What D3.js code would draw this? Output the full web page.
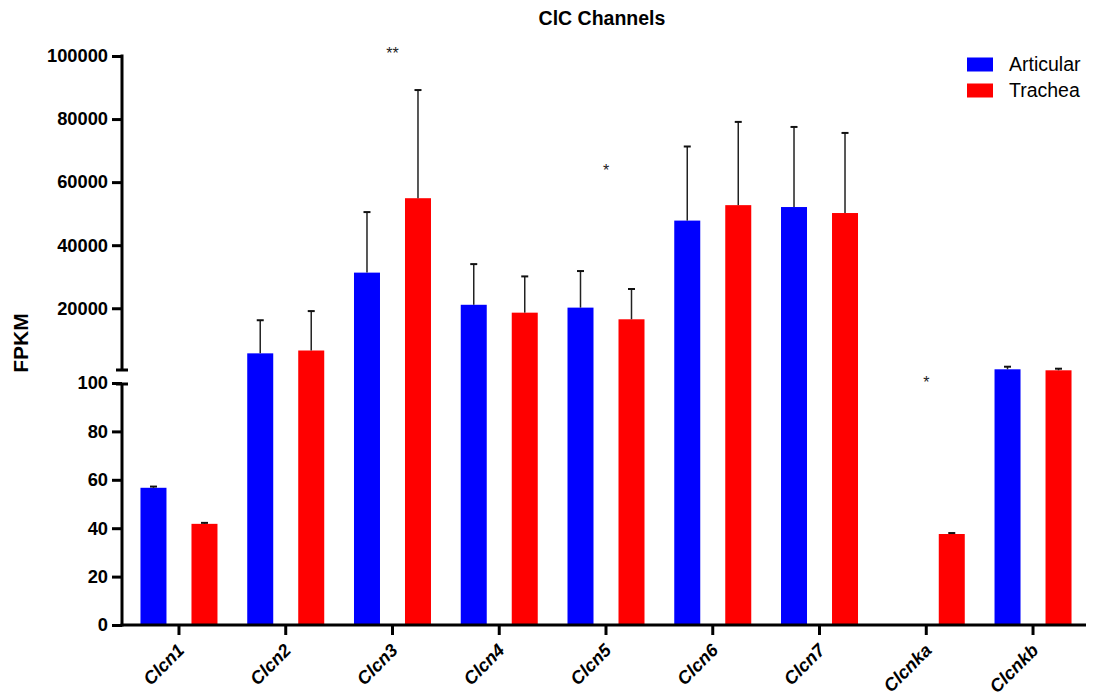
<!DOCTYPE html>
<html>
<head>
<meta charset="utf-8">
<script src="https://cdn.jsdelivr.net/npm/d3@7"></script>
<style>
  html, body { margin: 0; padding: 0; background: #fff; }
  svg { display: block; font-family: "Liberation Sans", Arial, Helvetica, sans-serif; }
</style>
</head>
<body>
<svg id="chart" width="1093" height="700"></svg>
<script>
// Gene categories and per-tissue FPKM means with upper error-bar ends
const genes = ["Clcn1", "Clcn2", "Clcn3", "Clcn4", "Clcn5", "Clcn6", "Clcn7", "Clcnka", "Clcnkb"];
const articular = [56.7, 5700, 31300, 21100, 20200, 47800, 52100, 0, 640];
const articularErr = [57.2, 16200, 50500, 34000, 31800, 71300, 77500, null, 1460];
const trachea = [41.8, 6600, 54900, 18600, 16500, 52700, 50200, 37.6, 320];
const tracheaErr = [42.2, 19100, 89200, 30100, 26100, 79100, 75600, 38.0, 830];

// Significance marks: [category, label, value position]
const stars = [["Clcn3", "**", 100000], ["Clcn5", "*", 63000], ["Clcnka", "*", 99]];

const seriesNames = ["Articular", "Trachea"];
const seriesColors = ["#0000ff", "#ff0000"];

// Broken y axis: two segments
const lowTicks = [0, 20, 40, 60, 80, 100];
const highTicks = [20000, 40000, 60000, 80000, 100000];

const svg = d3.select("#chart");

const axisX = 122;
const yLow = d3.scaleLinear().domain([0, 100]).range([625, 383]);
const yHigh = d3.scaleLinear().domain([100, 100000]).range([371, 56]);
const y = v => (v <= 100 ? yLow(v) : yHigh(v));

const x = d3.scaleBand().domain(genes).range([125.6, 1086.4]);
const barW = 26;
const offsets = [-25.5, 25.5];

// Bars
const series = [
  { vals: articular, err: articularErr },
  { vals: trachea, err: tracheaErr }
];

series.forEach((s, si) => {
  const g = svg.append("g");
  genes.forEach((gene, i) => {
    const v = s.vals[i];
    if (!v) return;
    const cx = x(gene) + x.bandwidth() / 2 + offsets[si];
    g.append("rect")
      .attr("x", cx - barW / 2)
      .attr("width", barW)
      .attr("y", y(v))
      .attr("height", yLow(0) - y(v))
      .attr("fill", seriesColors[si]);
    const e = s.err[i];
    if (e != null) {
      g.append("line")
        .attr("x1", cx).attr("x2", cx)
        .attr("y1", y(v)).attr("y2", y(e))
        .attr("stroke", "#222").attr("stroke-width", 1.5);
      g.append("line")
        .attr("x1", cx - 3.5).attr("x2", cx + 3.5)
        .attr("y1", y(e)).attr("y2", y(e))
        .attr("stroke", "#111").attr("stroke-width", 2);
    }
  });
});

// Y axis segments
const tickStyle = sel => {
  sel.select(".domain").remove();
  sel.selectAll(".tick line").attr("stroke", "#000").attr("stroke-width", 3);
  sel.selectAll(".tick text")
    .attr("font-size", "18.3px").attr("font-weight", "bold").attr("fill", "#000");
};

svg.append("g")
  .attr("transform", `translate(${axisX},0)`)
  .call(d3.axisLeft(yLow).tickValues(lowTicks).tickSize(10).tickPadding(4))
  .call(tickStyle);

svg.append("g")
  .attr("transform", `translate(${axisX},0)`)
  .call(d3.axisLeft(yHigh).tickValues(highTicks).tickSize(10).tickPadding(4).tickFormat(d3.format("d")))
  .call(tickStyle);

const axisG = svg.append("g").attr("stroke", "#000").attr("stroke-width", 3);
axisG.append("line").attr("x1", axisX).attr("x2", axisX).attr("y1", yHigh(100000) - 1.5).attr("y2", yHigh(100));
axisG.append("line").attr("x1", axisX).attr("x2", axisX).attr("y1", yLow(100)).attr("y2", yLow(0) + 1.5);
// break caps
axisG.append("line").attr("x1", axisX - 6).attr("x2", axisX + 6).attr("y1", yHigh(100) - 1).attr("y2", yHigh(100) - 1);
axisG.append("line").attr("x1", axisX - 6).attr("x2", axisX + 6).attr("y1", yLow(100) + 1).attr("y2", yLow(100) + 1);

// X axis
const xAxis = svg.append("g")
  .attr("transform", `translate(0,${yLow(0)})`)
  .call(d3.axisBottom(x).tickSize(10).tickSizeOuter(0));
xAxis.select(".domain").remove();
xAxis.selectAll(".tick line").attr("stroke", "#000").attr("stroke-width", 3);
xAxis.selectAll(".tick text")
  .attr("font-size", "18px").attr("font-weight", "bold").attr("font-style", "italic")
  .attr("fill", "#000")
  .attr("text-anchor", "end")
  .attr("transform", "translate(2,22) rotate(-45)")
  .attr("x", 0).attr("y", 0).attr("dy", "0.35em");
axisG.append("line").attr("x1", axisX - 1.5).attr("x2", 1086).attr("y1", yLow(0)).attr("y2", yLow(0));

// Significance stars
svg.append("g").selectAll("text").data(stars).join("text")
  .attr("x", d => x(d[0]) + x.bandwidth() / 2)
  .attr("y", d => y(d[2]) + 3)
  .attr("text-anchor", "middle")
  .attr("font-size", "16px")
  .attr("fill", "#222")
  .text(d => d[1]);

// Title
svg.append("text")
  .attr("x", 602).attr("y", 25)
  .attr("text-anchor", "middle")
  .attr("font-size", "19.5px").attr("font-weight", "bold")
  .text("ClC Channels");

// Y axis title
svg.append("text")
  .attr("transform", "translate(28,343) rotate(-90)")
  .attr("text-anchor", "middle")
  .attr("font-size", "21px").attr("font-weight", "bold")
  .text("FPKM");

// Legend
const legend = svg.append("g").attr("transform", "translate(967,57.5)");
seriesNames.forEach((name, i) => {
  const row = legend.append("g").attr("transform", `translate(0,${i * 26})`);
  row.append("rect").attr("width", 26).attr("height", 14).attr("fill", seriesColors[i]);
  row.append("text").attr("x", 42).attr("y", 7).attr("dy", "0.35em")
    .attr("font-size", "19.5px").attr("fill", "#000").text(name);
});
</script>
</body>
</html>
